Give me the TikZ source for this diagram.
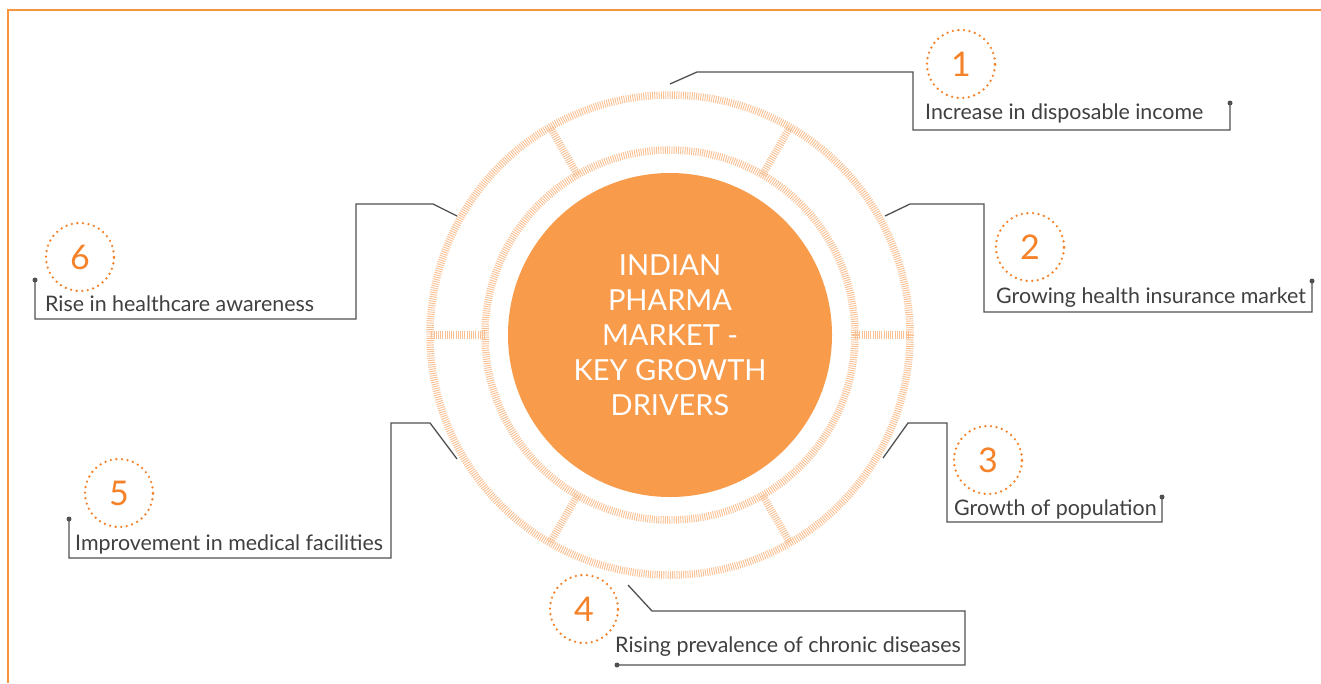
\documentclass[tikz,border=0pt]{standalone}
\usepackage{fontspec}
\setmainfont{Lato}
\usetikzlibrary{calc}
\definecolor{ringc}{RGB}{250,192,145}
\definecolor{mainc}{RGB}{248,155,75}
\definecolor{numc}{RGB}{245,130,40}
\definecolor{framec}{RGB}{247,148,60}
\definecolor{txtc}{RGB}{64,64,64}
\definecolor{linec}{RGB}{80,80,80}
\tikzset{
 hatch/.style={draw=ringc, line width=7.5pt, dash pattern=on 0.9pt off 1.3pt},
 num/.style={circle, draw=numc, line width=2.6pt, dash pattern=on 0pt off 5.6pt, line cap=round, minimum size=68pt, inner sep=0pt, text=numc, font=\fontsize{34}{34}\selectfont},
 lbl/.style={anchor=base west, inner sep=0pt, text=txtc, font=\fontsize{21.4}{22}\selectfont},
 conn/.style={draw=linec, line width=1.3pt},
 enddot/.style={circle, fill=linec, inner sep=0pt, minimum size=5pt},
}
\begin{document}
\begin{tikzpicture}[x=1pt,y=-1pt]
\useasboundingbox (0,0) rectangle (1321,683);
\fill[white] (0,0) rectangle (1321,683);
\draw[framec, line width=1.6pt] (1321,10) -- (8,10) -- (8,683);
% rings
\coordinate (o) at (670,335);
\draw[hatch] (o) circle (240);
\draw[hatch] (o) circle (185);
\foreach \a in {0,60,...,300} \draw[hatch] ($(o)+(\a:185)$) -- ($(o)+(\a:240)$);
\node[circle, fill=mainc, minimum size=324pt, inner sep=0pt, text=white, align=center, font=\fontsize{29}{35}\selectfont] (center) at (o) {INDIAN\\PHARMA\\MARKET -\\KEY GROWTH\\DRIVERS};
% numbers
\node[num] (n1) at (961,64) {1};
\node[num] (n2) at (1030,247) {2};
\node[num] (n3) at (988,460) {3};
\node[num] (n4) at (584,609) {4};
\node[num] (n5) at (119,493) {5};
\node[num] (n6) at (80,257) {6};
% labels
\node[lbl] (t1) at (925,119) {Increase in disposable income};
\node[lbl] (t2) at (996,303) {Growing health insurance market};
\node[lbl] (t3) at (954,515) {Growth of population};
\node[lbl] (t4) at (615,652) {Rising prevalence of chronic diseases};
\node[lbl] (t5) at (75,550) {Improvement in medical facilities};
\node[lbl] (t6) at (45,311) {Rise in healthcare awareness};
% connector ends
\coordinate (s1) at (670,84);
\coordinate (s2) at (885,216);
\coordinate (s3) at (883,458);
\coordinate (s4) at (628,585);
\coordinate (s5) at (457,459);
\coordinate (s6) at (457,216);
\node[enddot] (d1) at (1230,103) {};
\node[enddot] (d2) at (1312,281) {};
\node[enddot] (d3) at (1162,497) {};
\node[enddot] (d4) at (617,665) {};
\node[enddot] (d5) at (69,519) {};
\node[enddot] (d6) at (35,280) {};
% connectors
\draw[conn] (s1) -- (697,72) -- (913,72) -- (913,130) -- (1230,130) -- (d1.center);
\draw[conn] (s2) -- (910,204) -- (984,204) -- (984,312) -- (1312,312) -- (d2.center);
\draw[conn] (s3) -- (908,423) -- (947,423) -- (947,522) -- (1162,522) -- (d3.center);
\draw[conn] (s4) -- (652,611) -- (965,611) -- (965,665) -- (d4.center);
\draw[conn] (s5) -- (430,423) -- (391,423) -- (391,558) -- (69,558) -- (d5.center);
\draw[conn] (s6) -- (433,204) -- (356,204) -- (356,319) -- (35,319) -- (d6.center);
\end{tikzpicture}
\end{document}
